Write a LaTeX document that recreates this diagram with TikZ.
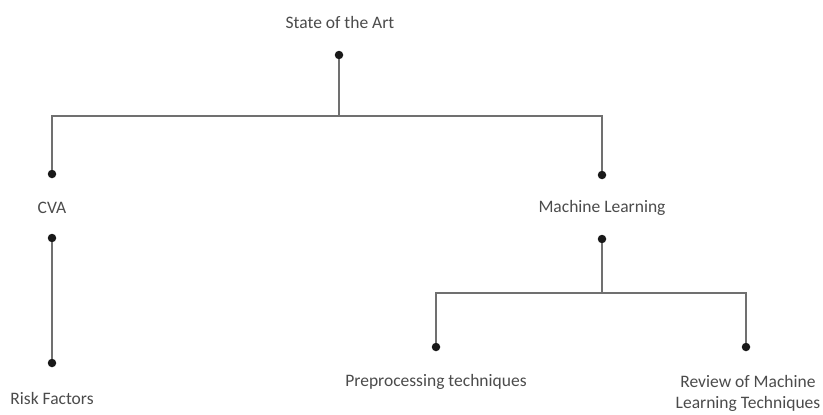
\documentclass[tikz,border=0pt]{standalone}
\usepackage{fontspec}
\setmainfont{Carlito}
\usetikzlibrary{positioning}
\definecolor{treeGray}{RGB}{112,112,112}
\definecolor{treeText}{RGB}{75,75,75}

\begin{document}
\begin{tikzpicture}[x=1pt, y=-1pt,
    lbl/.style={font=\fontsize{17.5}{21}\selectfont, text=treeText, align=center, inner sep=1pt},
    dot/.style={circle, fill=black!90, inner sep=0pt, minimum size=8.5pt},
    conn/.style={treeGray, line width=2pt}
  ]
  \useasboundingbox (0,0) rectangle (823,415);

  % labels
  \node[lbl] (sota) at (340, 22) {State of the Art};
  \node[lbl] (cva)  at ( 52,208) {CVA};
  \node[lbl] (ml)   at (602,208) {Machine Learning};
  \node[lbl] (risk) at ( 52,398) {Risk Factors};
  \node[lbl] (prep) at (436,382) {Preprocessing techniques};
  \node[lbl] (rev)  at (748,393) {Review of Machine\\Learning Techniques};

  % dots
  \node[dot] (sotaBot) at (339, 55) {};
  \node[dot] (cvaTop)  at ( 52,174) {};
  \node[dot] (cvaBot)  at ( 52,238) {};
  \node[dot] (mlTop)   at (602,175) {};
  \node[dot] (mlBot)   at (602,239) {};
  \node[dot] (riskTop) at ( 52,363) {};
  \node[dot] (prepTop) at (436,347) {};
  \node[dot] (revTop)  at (746,347) {};

  \coordinate (j1) at (339,116);
  \coordinate (j2) at (602,293);

  \draw[conn] (sotaBot) -- (j1) -| (cvaTop);
  \draw[conn] (j1) -| (mlTop);
  \draw[conn] (cvaBot) -- (riskTop);
  \draw[conn] (mlBot) -- (j2) -| (prepTop);
  \draw[conn] (j2) -| (revTop);
\end{tikzpicture}
\end{document}
